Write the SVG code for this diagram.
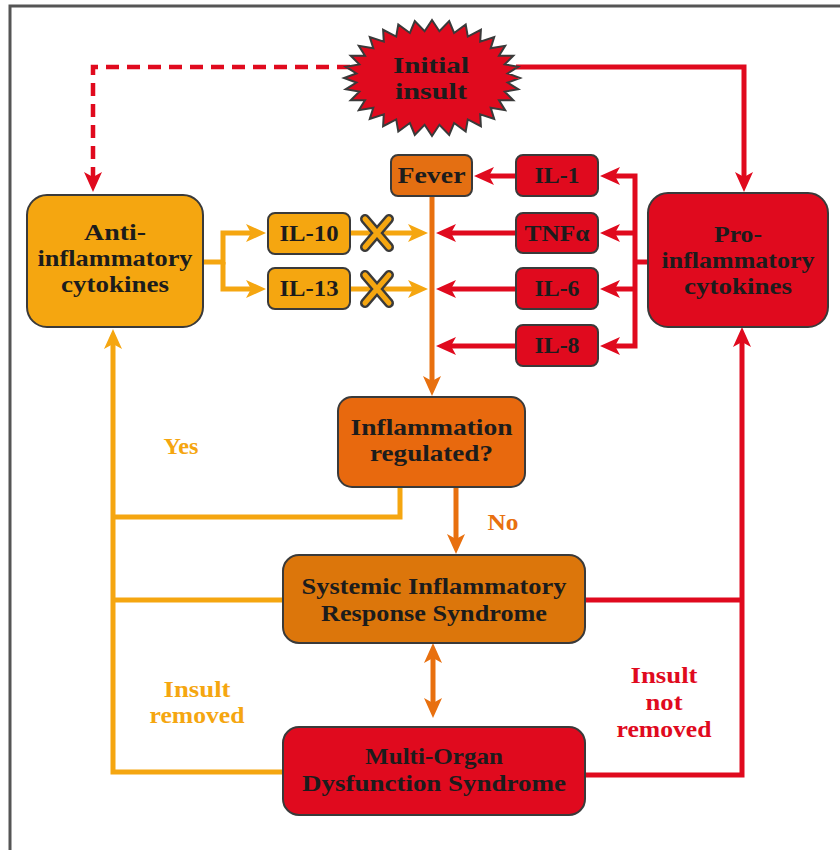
<svg xmlns="http://www.w3.org/2000/svg" width="840" height="850" viewBox="0 0 840 850">
<style>
  .node { stroke: #3a3a3a; stroke-width: 2; }
  .red { fill: #e00a1e; }
  .yel { fill: #f5a610; }
  .fev { fill: #e46f12; }
  .inf { fill: #e8690e; }
  .sirs { fill: #dc760b; }
  text { font-family: "Liberation Serif", "Times New Roman", serif; font-weight: bold; text-anchor: middle; font-size: 23px; }
  .t { fill: #1c1c1c; }
  .c-red { fill: none; stroke: #e00a1e; stroke-width: 5; }
  .c-yel { fill: none; stroke: #f5a610; stroke-width: 5; }
  .c-org { fill: none; stroke: #e8700f; stroke-width: 5; }
  .c-dash { fill: none; stroke: #e00a1e; stroke-width: 4.5; stroke-dasharray: 13 8; }
</style>
<defs>
  <marker id="ar" markerUnits="userSpaceOnUse" viewBox="0 0 20 18" markerWidth="20" markerHeight="18" refX="5" refY="9" orient="auto-start-reverse">
    <path d="M0,0 L20,9 L0,18 L5,9 z" fill="#e00a1e"/>
  </marker>
  <marker id="ay" markerUnits="userSpaceOnUse" viewBox="0 0 20 18" markerWidth="20" markerHeight="18" refX="5" refY="9" orient="auto-start-reverse">
    <path d="M0,0 L20,9 L0,18 L5,9 z" fill="#f5a610"/>
  </marker>
  <marker id="ao" markerUnits="userSpaceOnUse" viewBox="0 0 20 18" markerWidth="20" markerHeight="18" refX="5" refY="9" orient="auto-start-reverse">
    <path d="M0,0 L20,9 L0,18 L5,9 z" fill="#e8700f"/>
  </marker>
  <g id="xmark">
    <path d="M-12,-14 L12,14 M12,-14 L-12,14" stroke="#3a3a3a" stroke-width="10" stroke-linecap="round" fill="none"/>
    <path d="M-12,-14 L12,14 M12,-14 L-12,14" stroke="#f5a610" stroke-width="5" stroke-linecap="round" fill="none"/>
  </g>
</defs>

<rect width="840" height="850" fill="#ffffff"/>
<path d="M10,850 V6 H840" fill="none" stroke="#555555" stroke-width="3"/>

<g id="connectors">
  <path class="c-dash" d="M350,67 H93 V177" marker-end="url(#ar)"/>
  <path class="c-red" d="M516,67 H744 V177" marker-end="url(#ar)"/>
  <path class="c-yel" d="M203,262 H223 V233 H251" marker-end="url(#ay)"/>
  <path class="c-yel" d="M223,262 V289 H251" marker-end="url(#ay)"/>
  <path class="c-yel" d="M350,233 H413" marker-end="url(#ay)"/>
  <path class="c-yel" d="M350,289 H413" marker-end="url(#ay)"/>
  <path class="c-red" d="M615,176 H635 V346 H615" marker-start="url(#ar)" marker-end="url(#ar)"/>
  <path class="c-red" d="M635,233 H615" marker-end="url(#ar)"/>
  <path class="c-red" d="M635,289 H615" marker-end="url(#ar)"/>
  <path class="c-red" d="M648,262 H635"/>
  <path class="c-red" d="M516,176 H489" marker-end="url(#ar)"/>
  <path class="c-red" d="M516,233 H451" marker-end="url(#ar)"/>
  <path class="c-red" d="M516,289 H451" marker-end="url(#ar)"/>
  <path class="c-red" d="M516,346 H451" marker-end="url(#ar)"/>
  <path class="c-org" d="M432,196 V381" marker-end="url(#ao)"/>
  <path class="c-org" d="M456,487 V539" marker-end="url(#ao)"/>
  <path class="c-yel" d="M400,487 V517 H113"/>
  <path class="c-yel" d="M283,600 H113"/>
  <path class="c-yel" d="M283,772 H113 V344" marker-end="url(#ay)"/>
  <path class="c-red" d="M585,600 H742"/>
  <path class="c-red" d="M585,775 H742 V342" marker-end="url(#ar)"/>
  <path class="c-org" d="M433,658 V703" stroke="#dc7a0c" marker-start="url(#ao)" marker-end="url(#ao)"/>
  <use href="#xmark" x="377" y="233"/>
  <use href="#xmark" x="377" y="289"/>
</g>

<g id="initial-insult">
  <polygon class="node red" points="520,78 507.6,82.6 518.3,89.3 504.7,91.6 513.3,100.2 499,100.2 505.2,110.2 490.7,107.8 494.2,119 480.2,114.3 480.9,126.2 467.8,119.4 465.7,131.6 454.1,123 449.2,134.9 439.4,124.8 432,136 424.6,124.8 414.8,134.9 409.9,123 398.3,131.6 396.2,119.4 383.1,126.2 383.8,114.3 369.8,119 373.3,107.8 358.8,110.2 365,100.2 350.7,100.2 359.3,91.6 345.7,89.3 356.4,82.6 344,78 356.4,73.4 345.7,66.7 359.3,64.4 350.7,55.8 365,55.8 358.8,45.8 373.3,48.2 369.8,37 383.8,41.7 383.1,29.8 396.2,36.6 398.3,24.4 409.9,33 414.8,21.1 424.6,31.2 432,20 439.4,31.2 449.2,21.1 454.1,33 465.7,24.4 467.8,36.6 480.9,29.8 480.2,41.7 494.2,37 490.7,48.2 505.2,45.8 499,55.8 513.3,55.8 504.7,64.4 518.3,66.7 507.6,73.4"/>
  <text class="t" x="431" y="73" textLength="76" lengthAdjust="spacingAndGlyphs">Initial</text>
  <text class="t" x="431" y="99" textLength="72" lengthAdjust="spacingAndGlyphs">insult</text>
</g>

<g id="anti">
  <rect class="node yel" x="27" y="195" width="176" height="132" rx="20"/>
  <text class="t" x="115" y="240" textLength="62" lengthAdjust="spacingAndGlyphs">Anti-</text>
  <text class="t" x="115" y="266" textLength="155" lengthAdjust="spacingAndGlyphs">inflammatory</text>
  <text class="t" x="115" y="292" textLength="108" lengthAdjust="spacingAndGlyphs">cytokines</text>
</g>

<g id="il10">
  <rect class="node yel" x="268" y="213" width="82" height="41" rx="7"/>
  <text class="t" x="309" y="241" textLength="59" lengthAdjust="spacingAndGlyphs">IL-10</text>
</g>
<g id="il13">
  <rect class="node yel" x="268" y="268" width="82" height="41" rx="7"/>
  <text class="t" x="309" y="296" textLength="59" lengthAdjust="spacingAndGlyphs">IL-13</text>
</g>

<g id="fever">
  <rect class="node fev" x="391" y="155" width="81" height="41" rx="7"/>
  <text class="t" x="431.5" y="183" textLength="68" lengthAdjust="spacingAndGlyphs">Fever</text>
</g>

<g id="il1">
  <rect class="node red" x="516" y="155" width="82" height="41" rx="7"/>
  <text class="t" x="557" y="183" textLength="45" lengthAdjust="spacingAndGlyphs">IL-1</text>
</g>
<g id="tnfa">
  <rect class="node red" x="516" y="213" width="82" height="40" rx="7"/>
  <text class="t" x="557" y="241" textLength="65" lengthAdjust="spacingAndGlyphs">TNFα</text>
</g>
<g id="il6">
  <rect class="node red" x="516" y="268" width="82" height="41" rx="7"/>
  <text class="t" x="557" y="296" textLength="45" lengthAdjust="spacingAndGlyphs">IL-6</text>
</g>
<g id="il8">
  <rect class="node red" x="516" y="325" width="82" height="41" rx="7"/>
  <text class="t" x="557" y="353" textLength="45" lengthAdjust="spacingAndGlyphs">IL-8</text>
</g>

<g id="pro">
  <rect class="node red" x="648" y="193" width="180" height="134" rx="20"/>
  <text class="t" x="738" y="242" textLength="48" lengthAdjust="spacingAndGlyphs">Pro-</text>
  <text class="t" x="738" y="268" textLength="153" lengthAdjust="spacingAndGlyphs">inflammatory</text>
  <text class="t" x="738" y="294" textLength="108" lengthAdjust="spacingAndGlyphs">cytokines</text>
</g>

<g id="regulated">
  <rect class="node inf" x="338" y="397" width="187" height="90" rx="14"/>
  <text class="t" x="431.5" y="435" textLength="162" lengthAdjust="spacingAndGlyphs">Inflammation</text>
  <text class="t" x="431.5" y="461" textLength="123" lengthAdjust="spacingAndGlyphs">regulated?</text>
</g>

<g id="sirs">
  <rect class="node sirs" x="283" y="555" width="302" height="88" rx="16"/>
  <text class="t" x="434" y="594" textLength="265" lengthAdjust="spacingAndGlyphs">Systemic Inflammatory</text>
  <text class="t" x="434" y="621" textLength="226" lengthAdjust="spacingAndGlyphs">Response Syndrome</text>
</g>

<g id="mods">
  <rect class="node red" x="283" y="727" width="302" height="88" rx="16"/>
  <text class="t" x="434" y="764" textLength="138" lengthAdjust="spacingAndGlyphs">Multi-Organ</text>
  <text class="t" x="434" y="791" textLength="264" lengthAdjust="spacingAndGlyphs">Dysfunction Syndrome</text>
</g>

<g id="labels">
  <text x="181" y="454" fill="#f5a610" textLength="35" lengthAdjust="spacingAndGlyphs">Yes</text>
  <text x="503" y="530" fill="#e8700f" textLength="31" lengthAdjust="spacingAndGlyphs">No</text>
  <text x="197" y="697" fill="#f5a610" textLength="67" lengthAdjust="spacingAndGlyphs">Insult</text>
  <text x="197" y="723" fill="#f5a610" textLength="95" lengthAdjust="spacingAndGlyphs">removed</text>
  <text x="664" y="683" fill="#e00a1e" textLength="67" lengthAdjust="spacingAndGlyphs">Insult</text>
  <text x="664" y="710" fill="#e00a1e" textLength="37" lengthAdjust="spacingAndGlyphs">not</text>
  <text x="664" y="737" fill="#e00a1e" textLength="95" lengthAdjust="spacingAndGlyphs">removed</text>
</g>
</svg>
